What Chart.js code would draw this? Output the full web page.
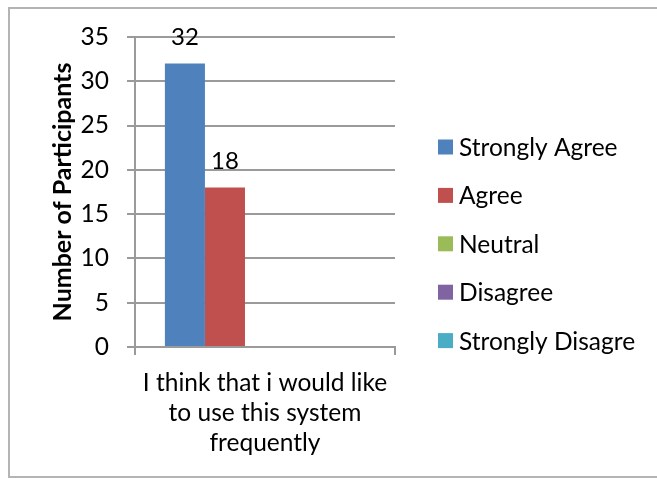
<!DOCTYPE html>
<html>
<head>
    <meta charset="UTF-8">
    <title>System usage survey</title>
    <script src="https://cdn.jsdelivr.net/npm/chart.js"></script>
    <style>
        html, body { margin: 0; padding: 0; background: #fff; }
        #wrap { position: relative; width: 657px; height: 479px; }
    </style>
</head>
<body>
    <div id="wrap"><canvas id="myChart"></canvas></div>
    <script>
        // survey answers for one question
        const categories = [['I think that i would like', 'to use this system', 'frequently']];
        const seriesNames = ['Strongly Agree', 'Agree', 'Neutral', 'Disagree', 'Strongly Disagre'];
        const stronglyAgree = [32];
        const agree = [18];
        const neutral = [null];
        const disagree = [null];
        const stronglyDisagree = [null];
        const yTicks = [0, 5, 10, 15, 20, 25, 30, 35];

        const colors = ['#4F81BD', '#C0504D', '#9BBB59', '#8064A2', '#4BACC6'];
        const gridColor = '#9a9a9a';

        Chart.defaults.font.family = 'Lato';
        Chart.defaults.color = '#000';

        // frame around the whole chart
        const frame = {
            id: 'frame',
            beforeDraw(chart) {
                const c = chart.ctx;
                c.save();
                c.fillStyle = '#fff';
                c.fillRect(0, 0, chart.width, chart.height);
                c.strokeStyle = '#b4b4b4';
                c.lineWidth = 2;
                c.strokeRect(9, 8, 660, 469);
                c.restore();
            }
        };

        // value labels above bars
        const valueLabels = {
            id: 'valueLabels',
            afterDatasetsDraw(chart) {
                const c = chart.ctx;
                c.save();
                c.font = '24px Lato';
                c.fillStyle = '#000';
                c.textAlign = 'center';
                c.textBaseline = 'alphabetic';
                chart.data.datasets.forEach((ds, i) => {
                    chart.getDatasetMeta(i).data.forEach((bar, j) => {
                        const v = ds.data[j];
                        if (v === null || v === undefined) return;
                        c.fillText(String(v), bar.x, bar.y - 19);
                    });
                });
                c.restore();
            }
        };

        // legend on the right, office style
        const sideLegend = {
            id: 'sideLegend',
            afterDraw(chart) {
                const c = chart.ctx;
                c.save();
                c.font = '24.5px Lato';
                c.textBaseline = 'middle';
                c.textAlign = 'left';
                chart.data.datasets.forEach((ds, i) => {
                    const y = 147 + i * 48.4;
                    c.fillStyle = ds.backgroundColor;
                    c.fillRect(438, y - 7.5, 15, 15);
                    c.fillStyle = '#000';
                    c.fillText(ds.label, 459, y + 1);
                });
                c.restore();
            }
        };

        const seriesData = [stronglyAgree, agree, neutral, disagree, stronglyDisagree];

        const ctx = document.getElementById('myChart').getContext('2d');
        const chart = new Chart(ctx, {
            type: 'bar',
            data: {
                labels: categories,
                datasets: seriesNames.map((name, i) => ({
                    label: name,
                    data: seriesData[i],
                    backgroundColor: colors[i],
                    borderWidth: 0,
                    categoryPercentage: 0.77,
                    barPercentage: 1
                }))
            },
            options: {
                responsive: true,
                maintainAspectRatio: false,
                animation: false,
                layout: {
                    padding: { top: 37, right: 262, bottom: 0, left: 0 }
                },
                plugins: {
                    legend: { display: false },
                    tooltip: { enabled: false }
                },
                scales: {
                    x: {
                        grid: {
                            display: true,
                            drawOnChartArea: false,
                            color: gridColor,
                            lineWidth: 2,
                            tickLength: 8
                        },
                        border: { color: gridColor, width: 2 },
                        ticks: {
                            padding: 13,
                            font: { size: 24.5, lineHeight: 1.23 },
                            maxRotation: 0
                        },
                        afterFit(scale) { scale.height = 132; }
                    },
                    y: {
                        min: 0,
                        max: 35,
                        afterBuildTicks(scale) {
                            scale.ticks = yTicks.map(v => ({ value: v }));
                        },
                        grid: {
                            color: gridColor,
                            lineWidth: 2,
                            tickLength: 8
                        },
                        border: { color: gridColor, width: 2 },
                        ticks: {
                            padding: 18,
                            font: { size: 24.5 }
                        },
                        title: {
                            display: true,
                            text: 'Number of Participants',
                            font: { size: 25, weight: 'bold' },
                            padding: { top: 48, bottom: 0 }
                        },
                        afterFit(scale) { scale.width = 135; }
                    }
                }
            },
            plugins: [frame, valueLabels, sideLegend]
        });
    </script>
</body>
</html>
